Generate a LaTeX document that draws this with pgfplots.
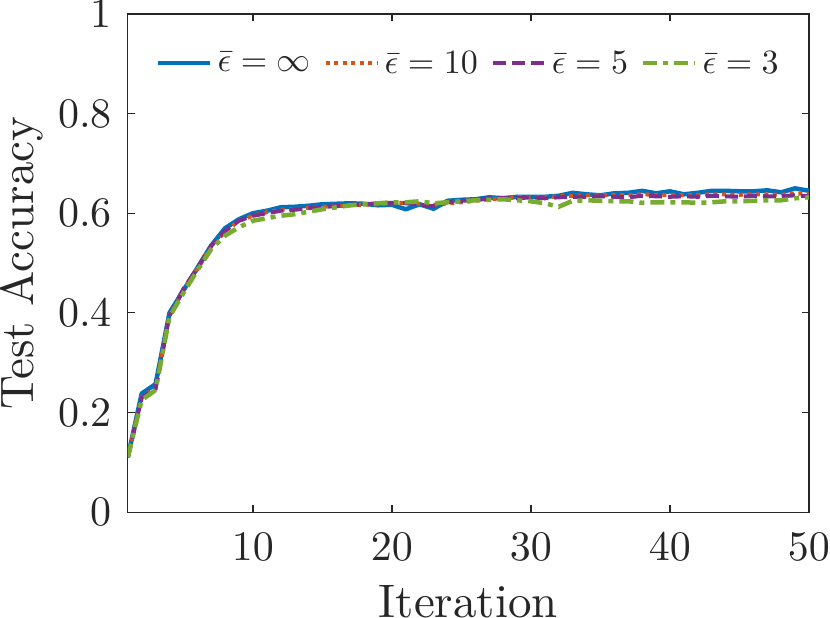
\documentclass[border=0pt]{standalone}
\usepackage{pgfplots}
\pgfplotsset{compat=1.18}
\definecolor{mblue}{rgb}{0,0.447,0.741}
\definecolor{morange}{rgb}{0.85,0.325,0.098}
\definecolor{mpurple}{rgb}{0.494,0.184,0.556}
\definecolor{mgreen}{rgb}{0.466,0.674,0.188}
\definecolor{mgray}{rgb}{0.15,0.15,0.15}
\begin{document}
\begin{tikzpicture}
\begin{axis}[
  scale only axis,
  width=681pt, height=498pt,
  xmin=1, xmax=50, ymin=0, ymax=1,
  xtick={10,20,30,40,50},
  ytick={0,0.2,0.4,0.6,0.8,1},
  yticklabels={0,0.2,0.4,0.6,0.8,1},
  tick align=inside,
  major tick length=7pt,
  axis line style={mgray, line width=1.2pt},
  tick style={mgray, line width=1.2pt},
  every tick label/.append style={text=mgray},
  tick label style={inner sep=0pt},
  xticklabel style={yshift=-20pt, scale=4.2},
  yticklabel style={xshift=-15pt, scale=4.2},
  xlabel={Iteration},
  ylabel={Test Accuracy},
  xlabel style={inner sep=0pt, text=mgray, yshift=-24pt, scale=4.7},
  ylabel style={inner sep=0pt, text=mgray, scale=4.7},
  ylabel shift=14pt,
  legend columns=4,
  legend style={draw=none, fill=white, at={(0.5,0.902)}, anchor=center,
    text=mgray,
    /tikz/every odd column/.append style={column sep=3pt},
    /tikz/every even column/.append style={column sep=11pt},
    inner sep=2pt},
  legend image code/.code={\draw[#1] (0pt,0pt) -- (52pt,0pt);},
]
\addplot[mblue, line width=4.5pt, line join=round] coordinates {
(1,0.110)(2,0.238)(3,0.257)(4,0.400)(5,0.445)(6,0.490)(7,0.535)(8,0.570)(9,0.588)(10,0.600)
(11,0.605)(12,0.612)(13,0.613)(14,0.615)(15,0.618)(16,0.619)(17,0.620)(18,0.619)(19,0.616)(20,0.617)
(21,0.608)(22,0.618)(23,0.609)(24,0.625)(25,0.627)(26,0.628)(27,0.632)(28,0.630)(29,0.633)(30,0.633)
(31,0.633)(32,0.635)(33,0.641)(34,0.638)(35,0.636)(36,0.640)(37,0.641)(38,0.645)(39,0.640)(40,0.644)
(41,0.638)(42,0.641)(43,0.645)(44,0.645)(45,0.644)(46,0.644)(47,0.646)(48,0.642)(49,0.650)(50,0.645)};
\addlegendentry{\scalebox{3.4}{$\bar{\epsilon}=\infty$}}
\addplot[morange, line width=4pt, dash pattern=on 4pt off 4.5pt] coordinates {
(1,0.110)(2,0.232)(3,0.248)(4,0.395)(5,0.445)(6,0.488)(7,0.533)(8,0.563)(9,0.585)(10,0.595)
(11,0.602)(12,0.607)(13,0.608)(14,0.611)(15,0.613)(16,0.614)(17,0.616)(18,0.617)(19,0.618)(20,0.620)
(21,0.621)(22,0.619)(23,0.617)(24,0.620)(25,0.622)(26,0.625)(27,0.628)(28,0.630)(29,0.632)(30,0.633)
(31,0.632)(32,0.634)(33,0.635)(34,0.636)(35,0.636)(36,0.637)(37,0.636)(38,0.638)(39,0.637)(40,0.637)
(41,0.636)(42,0.637)(43,0.638)(44,0.638)(45,0.637)(46,0.638)(47,0.638)(48,0.637)(49,0.640)(50,0.638)};
\addlegendentry{\scalebox{3.4}{$\bar{\epsilon}=10$}}
\addplot[mpurple, line width=4pt, dash pattern=on 13pt off 6pt] coordinates {
(1,0.110)(2,0.230)(3,0.248)(4,0.395)(5,0.448)(6,0.490)(7,0.535)(8,0.565)(9,0.585)(10,0.595)
(11,0.600)(12,0.605)(13,0.607)(14,0.610)(15,0.613)(16,0.614)(17,0.617)(18,0.618)(19,0.620)(20,0.621)
(21,0.620)(22,0.617)(23,0.614)(24,0.622)(25,0.625)(26,0.626)(27,0.630)(28,0.631)(29,0.630)(30,0.632)
(31,0.630)(32,0.632)(33,0.633)(34,0.633)(35,0.634)(36,0.633)(37,0.632)(38,0.635)(39,0.634)(40,0.633)
(41,0.634)(42,0.633)(43,0.635)(44,0.634)(45,0.633)(46,0.635)(47,0.634)(48,0.634)(49,0.636)(50,0.634)};
\addlegendentry{\scalebox{3.4}{$\bar{\epsilon}=5$}}
\addplot[mgreen, line width=4.5pt, dash pattern=on 14pt off 6pt on 5pt off 6pt] coordinates {
(1,0.110)(2,0.225)(3,0.245)(4,0.392)(5,0.440)(6,0.485)(7,0.528)(8,0.555)(9,0.572)(10,0.585)
(11,0.590)(12,0.595)(13,0.598)(14,0.603)(15,0.608)(16,0.612)(17,0.616)(18,0.618)(19,0.620)(20,0.622)
(21,0.622)(22,0.624)(23,0.620)(24,0.622)(25,0.624)(26,0.626)(27,0.627)(28,0.628)(29,0.626)(30,0.624)
(31,0.620)(32,0.613)(33,0.625)(34,0.626)(35,0.625)(36,0.624)(37,0.624)(38,0.621)(39,0.622)(40,0.622)
(41,0.622)(42,0.621)(43,0.622)(44,0.624)(45,0.624)(46,0.625)(47,0.626)(48,0.626)(49,0.630)(50,0.632)};
\addlegendentry{\scalebox{3.4}{$\bar{\epsilon}=3$}}
\end{axis}
\end{tikzpicture}
\end{document}
